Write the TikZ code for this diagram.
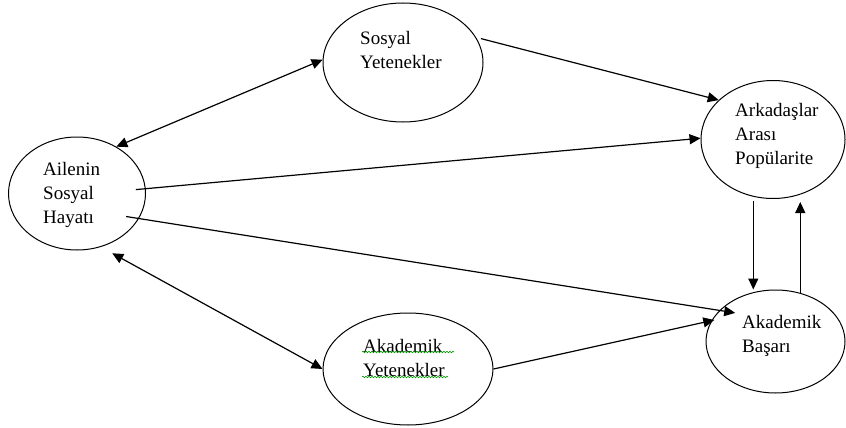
\documentclass[tikz,border=0pt]{standalone}
\usepackage{fontspec}
\setmainfont{Liberation Serif}
\usetikzlibrary{positioning, arrows.meta, shapes.geometric, decorations.pathmorphing}

\tikzset{
  oval/.style={draw, ellipse, line width=1pt, inner sep=0pt},
  lbl/.style={anchor=west, align=left, inner sep=0pt, font=\fontsize{19}{24}\selectfont},
  arr/.style={-{Triangle[length=11pt, width=10pt]}, line width=1.2pt},
  dblarr/.style={{Triangle[length=11pt, width=10pt]}-{Triangle[length=11pt, width=10pt]}, line width=1.2pt},
  spell/.style={green!60!black, line width=0.6pt, decorate,
    decoration={snake, amplitude=0.8pt, segment length=3pt}}
}

\begin{document}
\begin{tikzpicture}[x=1pt, y=-1pt]
\useasboundingbox (0,0) rectangle (846,428);

% Ellipses (drawn first)
\node[oval, minimum width=137pt, minimum height=113pt] (ailenin) at (77,193.5) {};
\node[oval, minimum width=160pt, minimum height=119pt] (sosyal) at (403,62.5) {};
\node[oval, minimum width=144pt, minimum height=118pt] (ark) at (773,139.5) {};
\node[oval, minimum width=139pt, minimum height=103pt] (basari) at (775.5,341.5) {};
\node[oval, minimum width=170pt, minimum height=112pt] (akyet) at (408,369) {};

% Labels inside the ellipses
\node[lbl] (ailenin-t) at (43,195) {Ailenin\\Sosyal\\Hayatı};
\node[lbl] (sosyal-t) at (360,50.5) {Sosyal\\Yetenekler};
\node[lbl] (ark-t) at (735,136) {Arkadaşlar\\Arası\\Popülarite};
\node[lbl] (basari-t) at (742,335.5) {Akademik\\Başarı};
\node[lbl] (akyet-t) at (363,357.5) {Akademik\\Yetenekler};

% Spell-check underline
\draw[spell] (362,352) -- (454,352);
\draw[spell] (362,377) -- (448,377);

% Connectors
\draw[dblarr] (ailenin.50) -- (sosyal.178);
\draw[arr, shorten <=5pt] (sosyal.19) -- (ark.144);
\draw[arr, shorten <=-10pt] (ailenin.4) -- (ark.179);
\draw[arr, shorten <=-13pt, shorten >=-16pt] (ailenin.-22) -- (basari.151);
\draw[dblarr, shorten <=13pt] (ailenin.-66) -- (akyet.west);
\draw[arr, shorten >=-3pt] (akyet.east) -- (basari.162);

% Vertical pair
\draw[arr, shorten <=4pt] (ark.-109) -- (ark.-109 |- basari.north);
\draw[arr, shorten >=3pt] (basari.63) -- (basari.63 |- ark.south);

\end{tikzpicture}
\end{document}
